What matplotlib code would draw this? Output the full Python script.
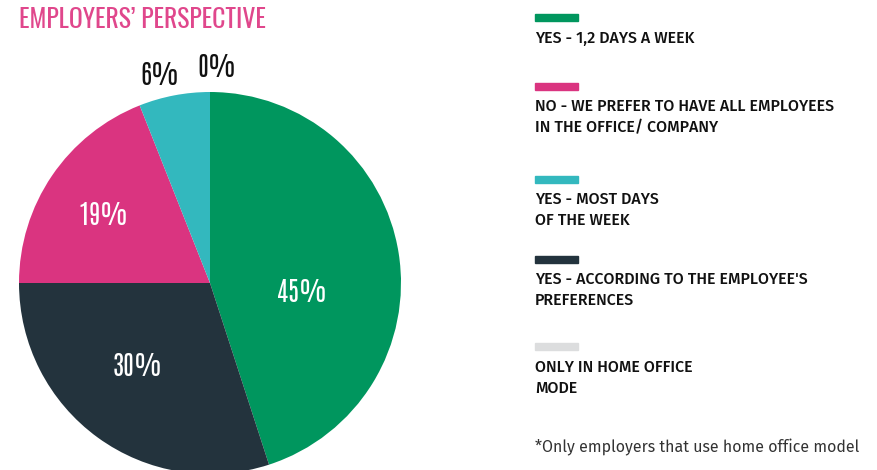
import matplotlib.pyplot as plt

# data
labels = ["YES - 1,2 DAYS A WEEK",
          "YES - ACCORDING TO THE EMPLOYEE'S\nPREFERENCES",
          "NO - WE PREFER TO HAVE ALL EMPLOYEES\nIN THE OFFICE/ COMPANY",
          "YES - MOST DAYS\nOF THE WEEK",
          "ONLY IN HOME OFFICE\nMODE"]
shares = [45, 30, 19, 6, 0]
colors = ["#00965E", "#23333D", "#DA3480", "#33B8BE", "#DCDDDE"]

# legend order as in the picture
legend_order = [0, 2, 3, 1, 4]

W, H = 877, 470
fig = plt.figure(figsize=(W / 100, H / 100), dpi=100)

num_font = ["Antonio", "DejaVu Sans"]
title_font = ["Oswald", "DejaVu Sans"]
leg_font = ["Fira Sans", "DejaVu Sans"]

def fx(px):
    return px / W

def fy(py):
    return 1 - py / H

# pie axes, centre (210, 283), r 191 px
cx, cy, r = 210, 283, 191
ax = fig.add_axes([fx(cx - r), fy(cy + r), 2 * r / W, 2 * r / H])
wedges, _ = ax.pie(shares, colors=colors, startangle=90, counterclock=False,
                   radius=1, wedgeprops=dict(linewidth=0))
ax.set_xlim(-1, 1)
ax.set_ylim(-1, 1)
ax.set_aspect("equal")
ax.axis("off")

# percentage labels
lab_pos = [(302, 292, "white"), (138, 366, "white"), (103, 215, "white"),
           (160, 75, "#111111"), (217, 67, "#111111")]
for v, (px, py, c) in zip(shares, lab_pos):
    fig.text(fx(px), fy(py), f"{v}%", color=c, fontsize=19, family=num_font,
             weight="light", ha="center", va="center")

fig.text(fx(19), fy(20), "EMPLOYERS\u2019 PERSPECTIVE", color="#E0478C",
         fontsize=18.5, family=title_font, weight=200, ha="left", va="center")

# legend
bar_y = [14, 83, 176, 256, 343]
text_y = [38, 117, 210, 290, 378]
for i, by, ty in zip(legend_order, bar_y, text_y):
    fig.patches.append(plt.Rectangle((fx(535), fy(by + 7)), 43 / W, 7 / H,
                                     transform=fig.transFigure, color=colors[i]))
    fig.text(fx(535), fy(ty), labels[i], fontsize=11.5, family=leg_font,
             weight="medium", color="#111111", ha="left", va="center",
             linespacing=1.35)

fig.text(fx(535), fy(447), "*Only employers that use home office model",
         fontsize=11.5, family=leg_font, weight="normal", color="#333333",
         ha="left", va="center")

fig.savefig("out.png", dpi=100)
